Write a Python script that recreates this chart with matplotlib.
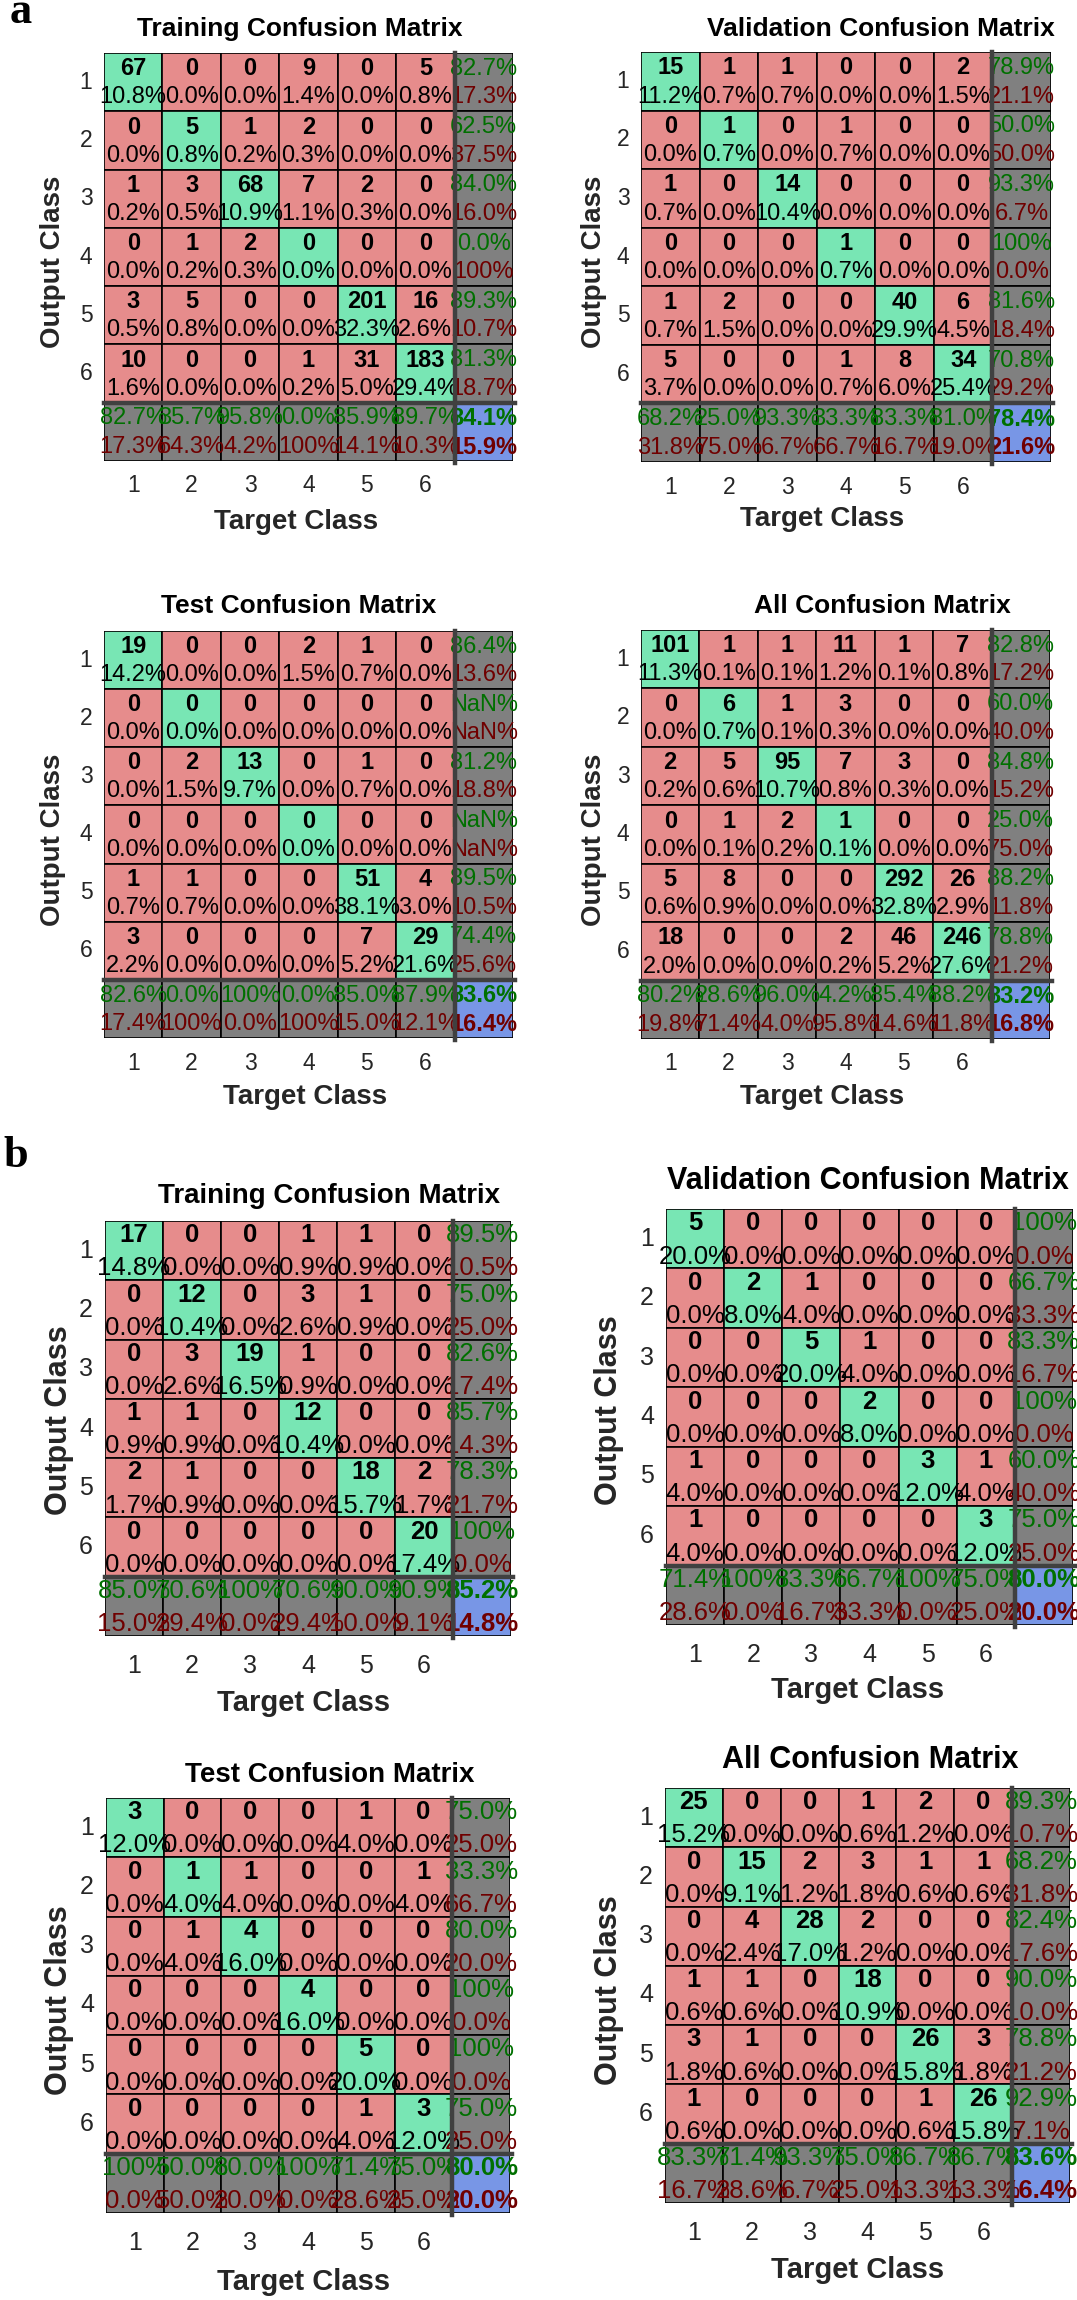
import numpy as np
import matplotlib.pyplot as plt
from matplotlib.patches import Rectangle

plt.rcParams['font.family'] = ['Liberation Sans', 'DejaVu Sans']

W, H = 1077, 2300

class_labels = ['1', '2', '3', '4', '5', '6']

# counts[output class, target class]
a_train = [[67, 0, 0, 9, 0, 5], [0, 5, 1, 2, 0, 0], [1, 3, 68, 7, 2, 0],
           [0, 1, 2, 0, 0, 0], [3, 5, 0, 0, 201, 16], [10, 0, 0, 1, 31, 183]]
a_val = [[15, 1, 1, 0, 0, 2], [0, 1, 0, 1, 0, 0], [1, 0, 14, 0, 0, 0],
         [0, 0, 0, 1, 0, 0], [1, 2, 0, 0, 40, 6], [5, 0, 0, 1, 8, 34]]
a_test = [[19, 0, 0, 2, 1, 0], [0, 0, 0, 0, 0, 0], [0, 2, 13, 0, 1, 0],
          [0, 0, 0, 0, 0, 0], [1, 1, 0, 0, 51, 4], [3, 0, 0, 0, 7, 29]]
a_all = [[101, 1, 1, 11, 1, 7], [0, 6, 1, 3, 0, 0], [2, 5, 95, 7, 3, 0],
         [0, 1, 2, 1, 0, 0], [5, 8, 0, 0, 292, 26], [18, 0, 0, 2, 46, 246]]

b_train = [[17, 0, 0, 1, 1, 0], [0, 12, 0, 3, 1, 0], [0, 3, 19, 1, 0, 0],
           [1, 1, 0, 12, 0, 0], [2, 1, 0, 0, 18, 2], [0, 0, 0, 0, 0, 20]]
b_val = [[5, 0, 0, 0, 0, 0], [0, 2, 1, 0, 0, 0], [0, 0, 5, 1, 0, 0],
         [0, 0, 0, 2, 0, 0], [1, 0, 0, 0, 3, 1], [1, 0, 0, 0, 0, 3]]
b_test = [[3, 0, 0, 0, 1, 0], [0, 1, 1, 0, 0, 1], [0, 1, 4, 0, 0, 0],
          [0, 0, 0, 4, 0, 0], [0, 0, 0, 0, 5, 0], [0, 0, 0, 0, 1, 3]]
b_all = [[25, 0, 0, 1, 2, 0], [0, 15, 2, 3, 1, 1], [0, 4, 28, 2, 0, 0],
         [1, 1, 0, 18, 0, 0], [3, 1, 0, 0, 26, 3], [1, 0, 0, 0, 1, 26]]

titles = ['Training Confusion Matrix', 'Validation Confusion Matrix',
          'Test Confusion Matrix', 'All Confusion Matrix']

GREEN_CELL = '#78E6B4'
RED_CELL = '#E68C8C'
GRAY_CELL = '#808080'
BLUE_CELL = '#7896E6'
GREEN_TXT = '#007000'
RED_TXT = '#700000'
SEP = '#404040'


def pct_text(v):
    if np.isnan(v):
        return 'NaN%'
    if round(v, 1) >= 100:
        return '100%'
    return f'{v:.1f}%'


def fx(px):
    return px / W


def fy(px):
    return 1 - px / H


def draw_matrix(fig, counts, title, lay):
    cm = np.array(counts)
    n = cm.shape[0]
    total = cm.sum()
    diag = np.diag(cm)
    with np.errstate(invalid='ignore', divide='ignore'):
        row_ok = diag / cm.sum(axis=1) * 100
        col_ok = diag / cm.sum(axis=0) * 100
    all_ok = diag.sum() / total * 100

    l, t, r, b = lay['box']
    ax = fig.add_axes([fx(l), fy(b), (r - l) / W, (b - t) / H])
    ax.set_xlim(0, n + 1)
    ax.set_ylim(n + 1, 0)
    ax.axis('off')
    fs = lay['fs']
    cy, py = lay['rows']
    kw = dict(ha='center', va='center', fontsize=fs, zorder=3)

    for i in range(n):
        for j in range(n):
            fc = GREEN_CELL if i == j else RED_CELL
            ax.add_patch(Rectangle((j, i), 1, 1, fc=fc, ec='black', lw=1.2))
            ax.text(j + .5, i + cy, str(cm[i, j]), fontweight='bold', **kw)
            ax.text(j + .5, i + py, pct_text(cm[i, j] / total * 100), **kw)
    for i in range(n):
        ax.add_patch(Rectangle((n, i), 1, 1, fc=GRAY_CELL, ec='black', lw=1.2))
        ax.text(n + .5, i + cy, pct_text(row_ok[i]), color=GREEN_TXT, **kw)
        ax.text(n + .5, i + py, pct_text(100 - row_ok[i]), color=RED_TXT, **kw)
    for j in range(n):
        ax.add_patch(Rectangle((j, n), 1, 1, fc=GRAY_CELL, ec='black', lw=1.2))
        ax.text(j + .5, n + cy, pct_text(col_ok[j]), color=GREEN_TXT, **kw)
        ax.text(j + .5, n + py, pct_text(100 - col_ok[j]), color=RED_TXT, **kw)
    ax.add_patch(Rectangle((n, n), 1, 1, fc=BLUE_CELL, ec='black', lw=1.2))
    ax.text(n + .5, n + cy, pct_text(all_ok), color=GREEN_TXT,
            fontweight='bold', **kw)
    ax.text(n + .5, n + py, pct_text(100 - all_ok), color=RED_TXT,
            fontweight='bold', **kw)

    # thick separators of the summary row / column
    ax.plot([n, n], [0, n + 1.04], color=SEP, lw=3.2, zorder=4, clip_on=False)
    ax.plot([0, n + 1.04], [n, n], color=SEP, lw=3.2, zorder=4, clip_on=False)

    cell_w = (r - l) / (n + 1)
    cell_h = (b - t) / (n + 1)
    tfs = lay['tick_fs']
    for k, lab in enumerate(class_labels):
        ax.text(k + .5, n + 1 + lay['xt_off'] / cell_h, lab, ha='center',
                va='center', fontsize=tfs, color='#262626', clip_on=False)
        ax.text(-lay['yt_off'] / cell_w, k + .5, lab, ha='center',
                va='center', fontsize=tfs, color='#262626', clip_on=False)

    fig.text(fx(lay['title'][0]), fy(lay['title'][1]), title, ha='center',
             va='center', fontsize=lay['title_fs'], fontweight='bold')
    fig.text(fx(lay['xlab'][0]), fy(lay['xlab'][1]), 'Target Class',
             ha='center', va='center', fontsize=lay['xlab_fs'],
             fontweight='bold', color='#262626')
    fig.text(fx(lay['ylab'][0]), fy(lay['ylab'][1]), 'Output Class',
             ha='center', va='center', rotation=90, fontsize=lay['ylab_fs'],
             fontweight='bold', color='#262626')


a_common = dict(fs=17, rows=(0.27, 0.76), tick_fs=16.5, xt_off=25, yt_off=18,
                title_fs=19, xlab_fs=20, ylab_fs=20)
b_common = dict(fs=18.5, rows=(0.24, 0.80), tick_fs=18, xt_off=30, yt_off=19,
                title_fs=20, xlab_fs=21, ylab_fs=22)

layouts = [
    dict(a_common, box=(104, 53, 513, 461), title=(300, 29),
         xlab=(296, 522), ylab=(53, 262)),
    dict(a_common, box=(641, 52, 1051, 462), title=(881, 29),
         xlab=(822, 519), ylab=(594, 262)),
    dict(a_common, box=(104, 631, 513, 1038), title=(299, 606),
         xlab=(305, 1097), ylab=(53, 840)),
    dict(a_common, box=(641, 630, 1050, 1039), title=(882, 606),
         xlab=(822, 1097), ylab=(594, 840)),
    dict(b_common, box=(105, 1221, 511, 1636), title=(329, 1196),
         xlab=(304, 1703), ylab=(59, 1420)),
    dict(b_common, box=(666, 1209, 1073, 1625), title=(868, 1181),
         xlab=(858, 1690), ylab=(609, 1410), title_fs=22),
    dict(b_common, box=(106, 1798, 510, 2213), title=(330, 1775),
         xlab=(304, 2282), ylab=(59, 2000)),
    dict(b_common, box=(665, 1788, 1070, 2203), title=(870, 1760),
         xlab=(858, 2270), ylab=(609, 1990), title_fs=22),
]

matrices = [a_train, a_val, a_test, a_all, b_train, b_val, b_test, b_all]

fig = plt.figure(figsize=(W / 100, H / 100), dpi=100)
for cm, title, lay in zip(matrices, titles * 2, layouts):
    draw_matrix(fig, cm, title, lay)

fig.text(fx(10), fy(23), 'a', fontsize=32, fontweight='bold',
         family=['Liberation Serif', 'DejaVu Serif'], va='baseline')
fig.text(fx(3), fy(1167), 'b', fontsize=32, fontweight='bold',
         family=['Liberation Serif', 'DejaVu Serif'], va='baseline')

fig.savefig('out.png', dpi=100)
